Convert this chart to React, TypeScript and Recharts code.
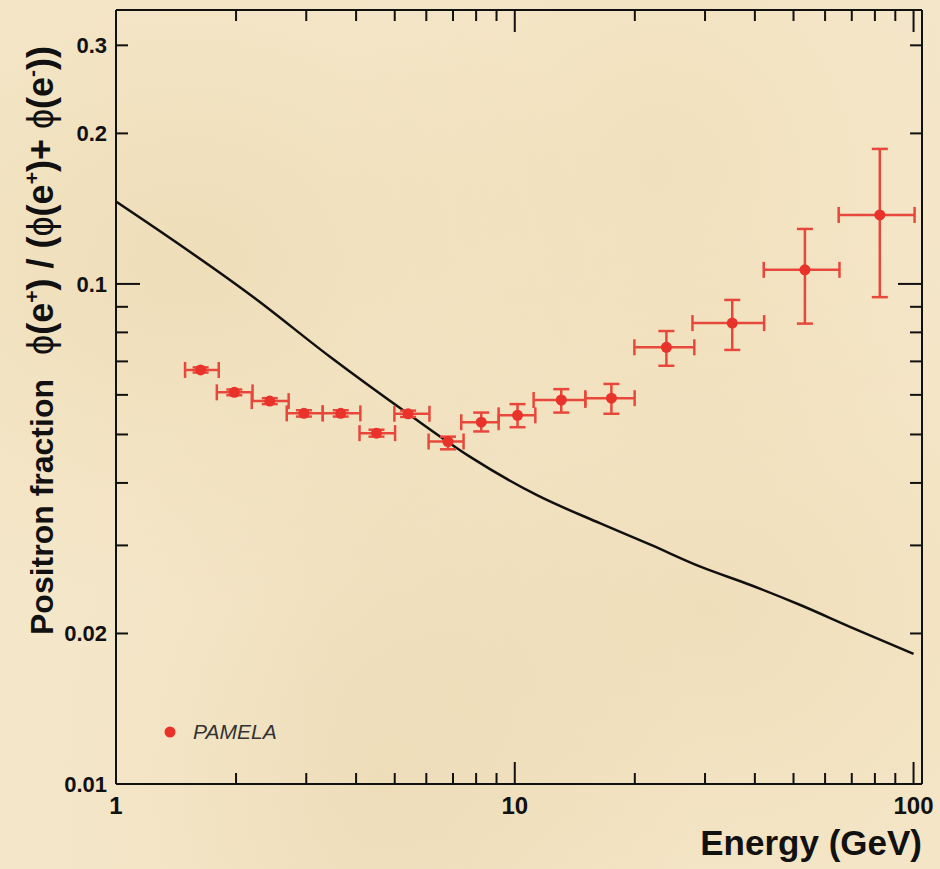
import React from 'react';
import {
  ComposedChart,
  Line,
  Scatter,
  ErrorBar,
  XAxis,
  YAxis,
  Legend,
  ReferenceLine,
} from 'recharts';

// PAMELA positron fraction points
const energy = [1.63, 1.98, 2.43, 2.96, 3.66, 4.5, 5.4, 6.8, 8.24, 10.16, 13.08, 17.47, 24.0, 35.1, 53.4, 82.3];
const binLow = [1.49, 1.79, 2.19, 2.68, 3.3, 4.08, 4.99, 6.08, 7.34, 9.11, 11.15, 15.03, 19.95, 27.9, 42.1, 64.9];
const binHigh = [1.81, 2.2, 2.71, 3.3, 4.1, 5.01, 6.11, 7.44, 9.11, 11.26, 15.03, 19.98, 28.2, 42.2, 65.2, 100.6];
const fraction = [0.0673, 0.0607, 0.0583, 0.0551, 0.0551, 0.0503, 0.055, 0.0484, 0.0529, 0.0546, 0.0586, 0.0591, 0.0747, 0.0835, 0.1067, 0.1374];
const fracLow = [0.0665, 0.0599, 0.0575, 0.0543, 0.0543, 0.0495, 0.0542, 0.0467, 0.0507, 0.0517, 0.0553, 0.055, 0.0686, 0.0738, 0.0833, 0.0941];
const fracHigh = [0.0681, 0.0615, 0.0591, 0.0559, 0.0559, 0.0511, 0.0558, 0.0495, 0.0553, 0.0575, 0.0616, 0.0631, 0.0805, 0.0929, 0.1288, 0.1862];

// secondary-production model curve
const modelEnergy = [1, 2.23, 3.44, 5.4, 7.73, 11.37, 16.39, 21.88, 29.21, 38.99, 52, 69.5, 100];
const modelFraction = [0.1461, 0.0936, 0.0715, 0.055, 0.0451, 0.0378, 0.0332, 0.0301, 0.0272, 0.025, 0.0228, 0.0206, 0.0182];

const X_DOMAIN = [1, 105];
const Y_DOMAIN = [0.01, 0.353];
const xTicks = [1, 2, 3, 4, 5, 6, 7, 8, 9, 10, 20, 30, 40, 50, 60, 70, 80, 90, 100];
const xLabels = [1, 10, 100];
const yTicks = [0.01, 0.02, 0.03, 0.04, 0.05, 0.06, 0.07, 0.08, 0.09, 0.1, 0.2, 0.3];
const yLabels = [0.01, 0.02, 0.1, 0.2, 0.3];
const yMajor = [0.01, 0.1];

const points = energy.map((e, i) => ({
  energy: e,
  frac: fraction[i],
  ex: [e - binLow[i], binHigh[i] - e],
  ey: [fraction[i] - fracLow[i], fracHigh[i] - fraction[i]],
}));

const model = modelEnergy.map((e, i) => ({ energy: e, model: modelFraction[i] }));

// plot frame (chart margins below give these)
const W = 940;
const H = 869;
const LEFT = 116;
const RIGHT = 922;
const TOP = 10;
const BOTTOM = 784;

const FONT = '"Liberation Sans", Arial, Helvetica, sans-serif';
const RED = '#e8322a';
const INK = '#111';

// ticks point inward, mirrored on top / right like the original
const XTick = (props: any) => {
  const { x, payload } = props;
  const major = xLabels.includes(payload.value);
  const len = major ? 22 : 11;
  return (
    <g>
      <line x1={x} y1={BOTTOM} x2={x} y2={BOTTOM - len} stroke={INK} strokeWidth={2} />
      <line x1={x} y1={TOP} x2={x} y2={TOP + len} stroke={INK} strokeWidth={2} />
      {major && (
        <text x={x} y={BOTTOM + 30} textAnchor="middle" fontFamily={FONT} fontWeight="bold" fontSize={24} fill={INK}>
          {payload.value}
        </text>
      )}
    </g>
  );
};

const YTick = (props: any) => {
  const { y, payload } = props;
  const len = yMajor.includes(payload.value) ? 24 : 12;
  return (
    <g>
      <line x1={LEFT} y1={y} x2={LEFT + len} y2={y} stroke={INK} strokeWidth={2} />
      <line x1={RIGHT} y1={y} x2={RIGHT - len} y2={y} stroke={INK} strokeWidth={2} />
      {yLabels.includes(payload.value) && (
        <text x={LEFT - 9} y={y + 8} textAnchor="end" fontFamily={FONT} fontWeight="bold" fontSize={22} fill={INK}>
          {payload.value}
        </text>
      )}
    </g>
  );
};

const YTitle = () => {
  const f = 36;
  const s = 21;
  const up = 14;
  return (
    <text transform="rotate(-90, 53, 635)" x={53} y={635} fontFamily={FONT} fontWeight="bold" fontSize={32} fill={INK}>
      <tspan>Positron fraction</tspan>
      <tspan dx={24} fontSize={f} fontWeight="normal">ϕ</tspan>
      <tspan fontSize={f}>(e</tspan>
      <tspan dy={-up} fontSize={s}>+</tspan>
      <tspan dy={up} fontSize={f}>) / (</tspan>
      <tspan fontSize={f} fontWeight="normal">ϕ</tspan>
      <tspan fontSize={f}>(e</tspan>
      <tspan dy={-up} fontSize={s}>+</tspan>
      <tspan dy={up} fontSize={f}>)+ </tspan>
      <tspan fontSize={f} fontWeight="normal">ϕ</tspan>
      <tspan fontSize={f}>(e</tspan>
      <tspan dy={-up} fontSize={s}>-</tspan>
      <tspan dy={up} fontSize={f}>))</tspan>
    </text>
  );
};

const XTitle = () => (
  <text x={RIGHT} y={BOTTOM + 71} textAnchor="end" fontFamily={FONT} fontWeight="bold" fontSize={35} fill={INK}>
    Energy (GeV)
  </text>
);

const LegendBox = () => (
  <div style={{ display: 'flex', alignItems: 'center', fontFamily: FONT }}>
    <svg width={14} height={14}>
      <circle cx={7} cy={7} r={5.5} fill={RED} />
    </svg>
    <span style={{ marginLeft: 16, fontStyle: 'italic', fontSize: 21, color: '#333' }}>PAMELA</span>
  </div>
);

export default function App() {
  return (
    <div
      style={{
        position: 'absolute',
        left: 0,
        top: 0,
        width: W,
        height: H,
        background:
          'radial-gradient(ellipse at 20% 30%, rgba(232,210,165,0.45), transparent 40%), radial-gradient(ellipse at 70% 20%, rgba(236,214,170,0.4), transparent 35%), radial-gradient(ellipse at 75% 70%, rgba(234,210,165,0.4), transparent 45%), radial-gradient(ellipse at 40% 90%, rgba(228,204,160,0.35), transparent 40%), #f4e7c9',
      }}
    >
      <ComposedChart width={W} height={H} margin={{ top: TOP, right: W - RIGHT, bottom: 0, left: 0 }}>
        <XAxis
          dataKey="energy"
          type="number"
          scale="log"
          domain={X_DOMAIN}
          allowDataOverflow
          ticks={xTicks}
          interval={0}
          height={H - BOTTOM}
          tickLine={false}
          tick={<XTick />}
          axisLine={{ stroke: INK, strokeWidth: 2 }}
          label={<XTitle />}
        />
        <YAxis
          type="number"
          scale="log"
          domain={Y_DOMAIN}
          allowDataOverflow
          ticks={yTicks}
          interval={0}
          width={LEFT}
          tickLine={false}
          tick={<YTick />}
          axisLine={{ stroke: INK, strokeWidth: 2 }}
          label={<YTitle />}
        />
        <ReferenceLine x={X_DOMAIN[1]} stroke={INK} strokeWidth={2} />
        <ReferenceLine y={Y_DOMAIN[1]} stroke={INK} strokeWidth={2} />
        <Line
          data={model}
          dataKey="model"
          type="monotone"
          stroke={INK}
          strokeWidth={2.5}
          dot={false}
          legendType="none"
          isAnimationActive={false}
        />
        <Scatter
          name="PAMELA"
          data={points}
          dataKey="frac"
          fill={RED}
          shape={(p: any) => <circle cx={p.cx} cy={p.cy} r={5.5} fill={RED} />}
          isAnimationActive={false}
        >
          <ErrorBar dataKey="ex" direction="x" stroke="#e8483b" strokeWidth={2.5} width={8} isAnimationActive={false} />
          <ErrorBar dataKey="ey" direction="y" stroke="#e8483b" strokeWidth={2.5} width={8} isAnimationActive={false} />
        </Scatter>
        <Legend
          layout="horizontal"
          verticalAlign="middle"
          align="center"
          content={<LegendBox />}
          wrapperStyle={{ left: 163, top: 720, width: 'auto' }}
        />
      </ComposedChart>
    </div>
  );
}
